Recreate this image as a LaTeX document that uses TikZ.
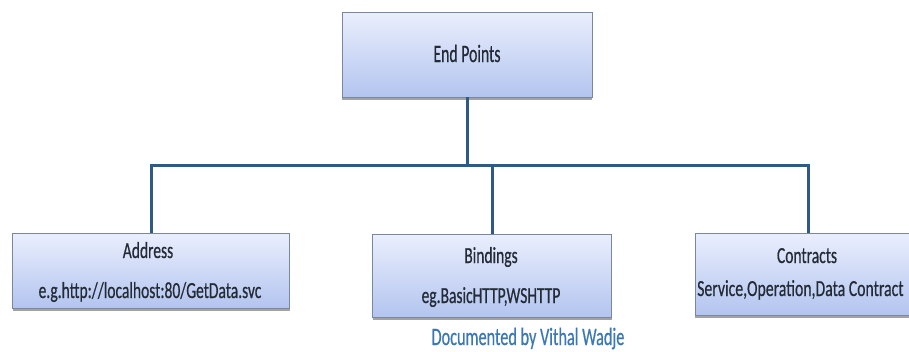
\documentclass[tikz,border=0pt]{standalone}
\usepackage{fontspec}
\setmainfont[FakeBold=0.6]{Carlito}
\usetikzlibrary{shadows}
\definecolor{boxtop}{HTML}{EAEFFD}
\definecolor{boxbot}{HTML}{B3C4EF}
\definecolor{boxline}{HTML}{7A879C}
\definecolor{conncol}{HTML}{2F5A86}
\definecolor{txtcol}{HTML}{232B36}
\definecolor{credcol}{HTML}{3C78B4}
\newcommand{\hs}[2]{\scalebox{#1}[1]{#2}}
\tikzset{
  box/.style={draw=boxline, line width=0.8pt, top color=boxtop, bottom color=boxbot,
    drop shadow={shadow xshift=0pt, shadow yshift=-3pt, fill=black!60, opacity=0.6},
    inner sep=0pt},
  conn/.style={draw=conncol, line width=3pt},
  lbl/.style={anchor=base, inner sep=0pt, text=txtcol, font=\fontsize{23}{27}\selectfont},
  cred/.style={anchor=base, inner sep=0pt, text=credcol, font=\fontsize{25}{29}\selectfont}
}
\begin{document}
\begin{tikzpicture}[x=1pt,y=-1pt]
\useasboundingbox (0,0) rectangle (909,351);
\clip (0,0) rectangle (909,351);
\fill[white] (0,0) rectangle (909,351);
% boxes
\node[box, minimum width=250pt, minimum height=85pt] (top) at (467,54.5) {};
\node[box, minimum width=277pt, minimum height=75pt] (left) at (151,270.5) {};
\node[box, minimum width=239pt, minimum height=83pt] (mid) at (492,275.5) {};
\node[box, minimum width=226pt, minimum height=82pt] (right) at (808,274) {};
% connectors
\coordinate (bus) at (467,165);
\draw[conn] (top.south) -- (bus);
\draw[conn] (left.north) |- (bus) -| (right.north);
\draw[conn] (mid.north) -- (mid.north |- bus);
% texts
\node[lbl, font=\fontsize{25}{29}\selectfont] (toptxt) at (467,62) {\hs{0.63}{End Points}};
\node[lbl] (lefttitle) at (148,258) {\hs{0.675}{Address}};
\node[lbl] (leftsub) at (150,298) {\hs{0.675}{e.g.http://localhost:80/GetData.svc}};
\node[lbl] (midtitle) at (491,263) {\hs{0.675}{Bindings}};
\node[lbl] (midsub) at (491,303) {\hs{0.675}{eg.BasicHTTP,WSHTTP}};
\node[lbl] (righttitle) at (807,263) {\hs{0.675}{Contracts}};
\node[lbl, anchor=base west] (rightsub) at (697,296) {\hs{0.685}{Service,Operation,Data Contract}};
\node[cred] (credit) at (528,345) {\hs{0.65}{Documented by Vithal Wadje}};
\end{tikzpicture}
\end{document}
